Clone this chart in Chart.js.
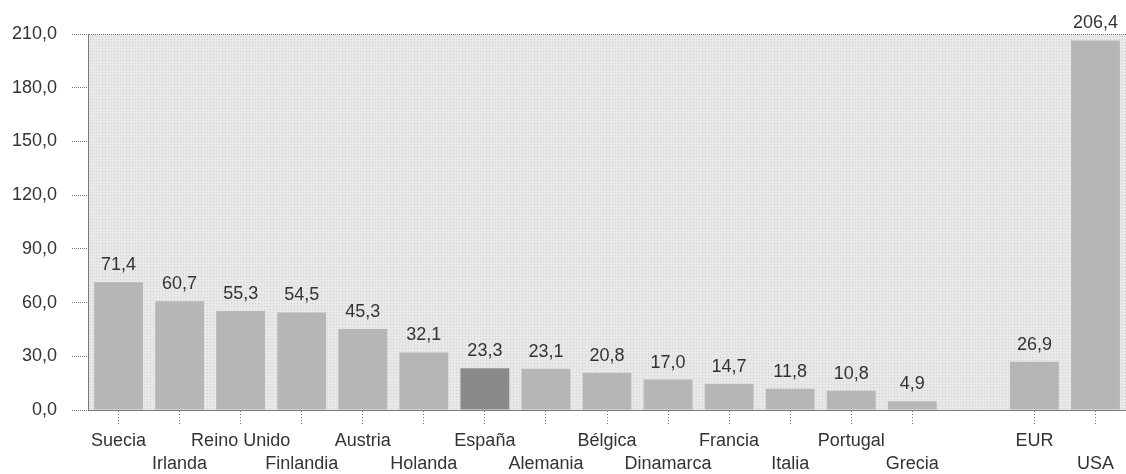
<!DOCTYPE html>
<html lang="es">
<head>
<meta charset="utf-8">
<title>Gráfico de barras</title>
<script src="https://cdn.jsdelivr.net/npm/chart.js@4.4.1/dist/chart.umd.min.js"></script>
<style>
  html, body { margin: 0; padding: 0; background: #ffffff; }
  #wrap { width: 1126px; height: 474px; }
</style>
</head>
<body>
<div id="wrap"><canvas id="grafico"></canvas></div>
<script>
// ===== Datos =====
const paises = [
  'Suecia', 'Irlanda', 'Reino Unido', 'Finlandia', 'Austria', 'Holanda', 'España',
  'Alemania', 'Bélgica', 'Dinamarca', 'Francia', 'Italia', 'Portugal', 'Grecia',
  '', 'EUR', 'USA',
];
// fila de la etiqueta: 0 = arriba, 1 = abajo
const filaEtiqueta = [0, 1, 0, 1, 0, 1, 0, 1, 0, 1, 0, 1, 0, 1, 0, 0, 1];
const valores = [71.4, 60.7, 55.3, 54.5, 45.3, 32.1, 23.3, 23.1, 20.8, 17.0, 14.7, 11.8, 10.8, 4.9, null, 26.9, 206.4];
const ticksY = [0, 30, 60, 90, 120, 150, 180, 210];

// ===== Colores =====
const COLOR_BARRA = '#b6b6b6';
const COLOR_ESPANA = '#8a8a8a';
const COLOR_TEXTO = '#333333';
const COLOR_LINEA = '#7a7a7a';
const FUENTE = '"Liberation Sans", Arial, sans-serif';

const fmt = (v) => v.toFixed(1).replace('.', ',');

// etiquetas en dos filas alternas
const etiquetas = paises.map((p, i) => (filaEtiqueta[i] === 1 ? ['', p] : [p, '']));

// textura punteada del fondo
function crearTextura(base, punto) {
  const c = document.createElement('canvas');
  c.width = 3; c.height = 3;
  const g = c.getContext('2d');
  g.fillStyle = base;
  g.fillRect(0, 0, 3, 3);
  g.fillStyle = punto;
  g.fillRect(0, 0, 1, 1);
  return g.createPattern(c, 'repeat');
}

// ===== Plugin: fondo del área del gráfico =====
const fondoPlugin = {
  id: 'fondo',
  beforeDraw(chart) {
    const { ctx, chartArea: { left, right, top, bottom } } = chart;
    ctx.save();
    ctx.fillStyle = crearTextura('#e8e8e8', '#d0d0d0');
    ctx.fillRect(left, top, right - left, bottom - top);
    ctx.restore();
  },
};

// ===== Plugin: valor encima de cada barra =====
const valoresPlugin = {
  id: 'valores',
  afterDatasetsDraw(chart) {
    const { ctx } = chart;
    const meta = chart.getDatasetMeta(0);
    ctx.save();
    ctx.font = '18px ' + FUENTE;
    ctx.fillStyle = COLOR_TEXTO;
    ctx.textAlign = 'center';
    ctx.textBaseline = 'bottom';
    meta.data.forEach((bar, i) => {
      const v = valores[i];
      if (v === null) return;
      ctx.fillText(fmt(v), bar.x, bar.y - 8);
    });
    ctx.restore();
  },
};

new Chart(document.getElementById('grafico'), {
  type: 'bar',
  data: {
    labels: etiquetas,
    datasets: [{
      data: valores,
      backgroundColor: paises.map((p) => (p === 'España' ? COLOR_ESPANA : COLOR_BARRA)),
      borderWidth: 0,
      barPercentage: 0.8,
      categoryPercentage: 1,
    }],
  },
  options: {
    responsive: true,
    maintainAspectRatio: false,
    animation: false,
    layout: { padding: { top: 34, right: -4, left: 0, bottom: 0 } },
    plugins: {
      legend: { display: false },
      tooltip: { enabled: false },
    },
    scales: {
      x: {
        offset: true,
        grid: {
          offset: false,
          drawOnChartArea: false,
          drawTicks: true,
          tickLength: 15,
          // sin marca en el hueco entre Grecia y EUR
          tickColor: (c) => (paises[c.index] === '' ? 'rgba(0,0,0,0)' : COLOR_LINEA),
          tickBorderDash: [1, 2],
        },
        border: { display: true, color: COLOR_LINEA, dash: [1, 1] },
        ticks: {
          color: COLOR_TEXTO,
          font: { family: FUENTE, size: 18, lineHeight: 1.25 },
          padding: 5,
          maxRotation: 0,
          autoSkip: false,
        },
        afterFit(scale) { scale.height = 64; },
      },
      y: {
        min: 0,
        max: 210,
        afterBuildTicks(scale) { scale.ticks = ticksY.map((v) => ({ value: v })); },
        grid: {
          drawOnChartArea: true,
          color: (c) => (c.tick && c.tick.value === 210 ? COLOR_LINEA : 'rgba(0,0,0,0)'),
          tickColor: COLOR_LINEA,
          tickLength: 16,
          tickBorderDash: [1, 1],
        },
        border: { display: true, color: COLOR_LINEA, dash: [1, 1] },
        ticks: {
          color: COLOR_TEXTO,
          font: { family: FUENTE, size: 18 },
          padding: 15,
          callback: (v) => fmt(v),
        },
        afterFit(scale) { scale.width = 88; },
      },
    },
  },
  plugins: [fondoPlugin, valoresPlugin],
});
</script>
</body>
</html>
